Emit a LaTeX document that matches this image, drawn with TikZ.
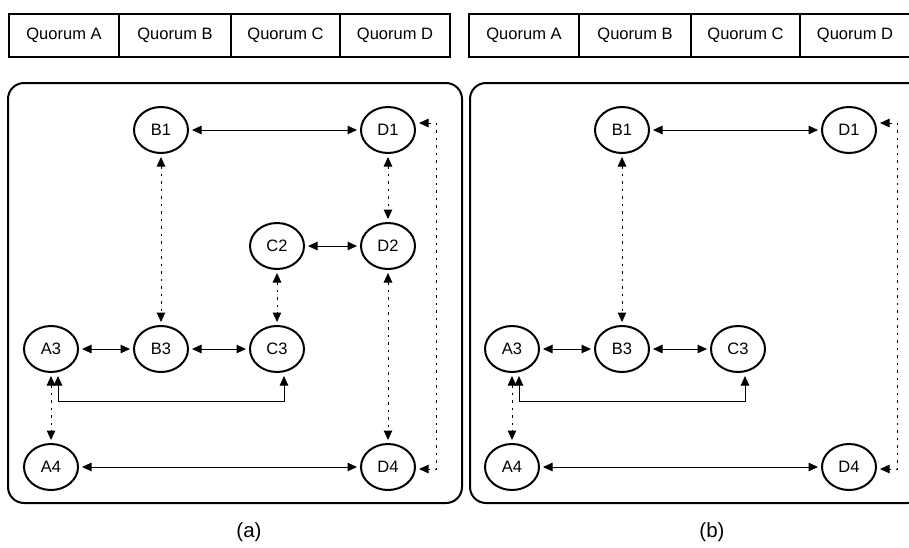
\documentclass[tikz,border=0pt]{standalone}
\usepackage{fontspec}
\setmainfont{Liberation Sans}
\usetikzlibrary{arrows.meta,shapes.geometric}
\tikzset{
  qnode/.style={ellipse,draw,line width=2pt,minimum width=54pt,minimum height=46pt,
    inner sep=0pt,font=\fontsize{16.5}{18}\selectfont},
  qcell/.style={draw,line width=2pt,minimum height=43pt,inner sep=0pt,
    font=\fontsize{16.5}{18}\selectfont},
  panel/.style={draw,line width=2pt,rounded corners=16pt},
  tip/.tip={Triangle[length=9.5pt,width=8.5pt]},
  link/.style={line width=1pt,tip-tip,shorten <=3pt,shorten >=3pt},
  dlink/.style={link,line width=1pt,dash pattern=on 2.5pt off 5pt},
  caption/.style={font=\fontsize{20.5}{22}\selectfont},
}
\begin{document}
\begin{tikzpicture}[x=1pt,y=-1pt]
\useasboundingbox (0,0) rectangle (909,547);

% quorum legend bars
\foreach \ox/\p in {0/a,460/b}{
  \node[qcell,minimum width=110pt] (q\p A) at (\ox+64,35.5) {Quorum A};
  \node[qcell,minimum width=112pt] (q\p B) at (\ox+175,35.5) {Quorum B};
  \node[qcell,minimum width=109pt] (q\p C) at (\ox+285.5,35.5) {Quorum C};
  \node[qcell,minimum width=110pt] (q\p D) at (\ox+395,35.5) {Quorum D};
}

% panels
\draw[panel] (8,83) rectangle (462,503);
\draw[panel] (470,83) rectangle (924,503);

% ---------- panel (a) ----------
\node[qnode] (aB1) at (161,130) {B1};
\node[qnode] (aD1) at (388,130) {D1};
\node[qnode] (aC2) at (277,246) {C2};
\node[qnode] (aD2) at (388,246) {D2};
\node[qnode] (aA3) at (51,349) {A3};
\node[qnode] (aB3) at (161,349) {B3};
\node[qnode] (aC3) at (277,349) {C3};
\node[qnode] (aA4) at (51,467) {A4};
\node[qnode] (aD4) at (388,467) {D4};

\draw[link] (aB1) -- (aD1);
\draw[link] (aC2) -- (aD2);
\draw[link] (aA3) -- (aB3);
\draw[link] (aB3) -- (aC3);
\draw[link] (aA4) -- (aD4);
\draw[dlink] (aB1) -- (aB3);
\draw[dlink] (aD1) -- (aD2);
\draw[dlink] (aC2) -- (aC3);
\draw[dlink] (aD2) -- (aD4);
\draw[dlink] (aA3.south) -- (aA4.north);
\coordinate (aLa) at (58,401);
\coordinate (aLc) at (284,401);
\draw[link] ([xshift=7pt]aA3.south) -- (aLa) -- (aLc) -- ([xshift=7pt]aC3.south);
\coordinate (aRt) at (436,123);
\coordinate (aRb) at (436,469);
\draw[dlink] (aD1.east |- aRt) -- (aRt) -- (aRb) -- (aD4.east |- aRb);

\node[caption] (capa) at (249,532) {(a)};

% ---------- panel (b) ----------
\node[qnode] (bB1) at (622,130) {B1};
\node[qnode] (bD1) at (849,130) {D1};
\node[qnode] (bA3) at (512,349) {A3};
\node[qnode] (bB3) at (622,349) {B3};
\node[qnode] (bC3) at (738,349) {C3};
\node[qnode] (bA4) at (512,467) {A4};
\node[qnode] (bD4) at (849,467) {D4};

\draw[link] (bB1) -- (bD1);
\draw[link] (bA3) -- (bB3);
\draw[link] (bB3) -- (bC3);
\draw[link] (bA4) -- (bD4);
\draw[dlink] (bB1) -- (bB3);
\draw[dlink] (bA3.south) -- (bA4.north);
\coordinate (bLa) at (519,401);
\coordinate (bLc) at (745,401);
\draw[link] ([xshift=7pt]bA3.south) -- (bLa) -- (bLc) -- ([xshift=7pt]bC3.south);
\coordinate (bRt) at (897,123);
\coordinate (bRb) at (897,469);
\draw[dlink] (bD1.east |- bRt) -- (bRt) -- (bRb) -- (bD4.east |- bRb);

\node[caption] (capb) at (712,532) {(b)};
\end{tikzpicture}
\end{document}
